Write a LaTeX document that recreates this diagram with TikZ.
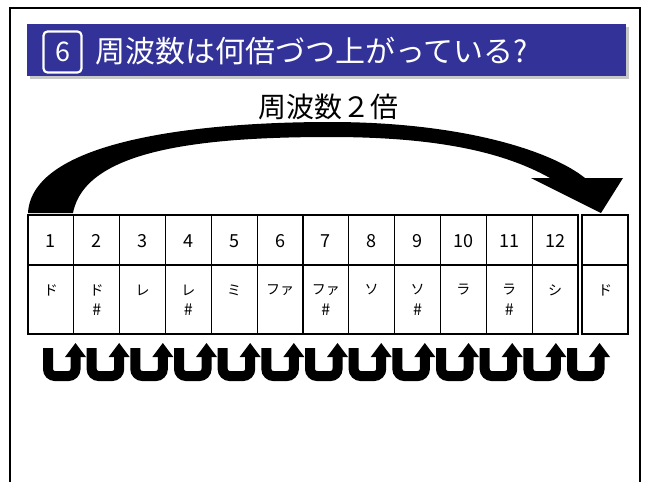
\documentclass[tikz,border=0pt]{standalone}
\usepackage{fontspec}
\setmainfont{Noto Sans CJK JP}
\definecolor{titleblue}{RGB}{50,50,152}
\begin{document}
\begin{tikzpicture}[x=1pt,y=-1pt,
  cellbox/.style={draw, line width=1.2pt, minimum width=45.83pt, inner sep=0pt},
  numlab/.style={font=\fontsize{18}{18}\selectfont, inner sep=0pt},
  kanalab/.style={font=\fontsize{14}{14}\selectfont, inner sep=0pt},
  uarrow/.style={line width=10pt, rounded corners=7pt}]
\useasboundingbox (0,0) rectangle (646,482);
\fill[white] (0,0) rectangle (646,482);
% frame
\draw[line width=2.6pt] (10,482) -- (10,8) -- (640,8) -- (640,482);
% title bar
\fill[black!22] (30,27) rectangle (629,79);
\fill[titleblue] (27,24) rectangle (626,76);
\node[draw=white, line width=2.2pt, rounded corners=4pt, minimum width=38pt, minimum height=41pt, inner sep=0pt, text=white, font=\fontsize{27}{27}\selectfont] (numbox) at (62.5,52) {6};
\node[anchor=west, text=white, font=\fontsize{30}{30}\selectfont, inner sep=0pt] (title) at (95,51) {周波数は何倍づつ上がっている?};
% big arc arrow
\fill (28,213) .. controls (32,140) and (200,122) .. (330,122)
  .. controls (460,122) and (550,150) .. (585,178)
  -- (623,178) -- (601,213) -- (531,178) -- (550,178)
  .. controls (500,150) and (430,137) .. (330,137)
  .. controls (200,137) and (85,150) .. (73,213) -- cycle;
\node[font=\fontsize{28}{28}\selectfont, inner sep=0pt] (arclabel) at (328,107) {周波数２倍};
% table
\foreach \k in {1,...,12} {
  \node[cellbox, minimum height=50pt] (n\k) at ({28+45.83*(\k-0.5)},240) {};
  \node[cellbox, minimum height=69pt] (m\k) at ({28+45.83*(\k-0.5)},299.5) {};
  \node[numlab] (lab\k) at ({28+45.83*(\k-0.5)},241) {\k};
}
\node[cellbox, minimum width=46pt, minimum height=50pt] (n13) at (605,240) {};
\node[cellbox, minimum width=46pt, minimum height=69pt] (m13) at (605,299.5) {};
\foreach \k/\kana in {1/ド,2/ド,3/レ,4/レ,5/ミ,6/ファ,7/ファ,8/ソ,9/ソ,10/ラ,11/ラ,12/シ} {
  \node[kanalab] (kana\k) at ({28+45.83*(\k-0.5)},290) {\kana};
}
\node[kanalab] (kana13) at (605,290) {ド};
\foreach \k in {2,4,7,9,11} {
  \node[kanalab, font=\fontsize{16}{16}\selectfont] (sharp\k) at ({28+45.83*(\k-0.5)},310) {\#};
}
% U-turn arrows
\foreach \i in {0,...,12} {
  \pgfmathsetmacro\xo{43+43.67*\i}
  \draw[uarrow] (\xo+5,348) -- (\xo+5,376) -- (\xo+32.5,376) -- (\xo+32.5,355);
  \fill (\xo+22,357) -- (\xo+32.5,343) -- (\xo+43,357) -- cycle;
}
\end{tikzpicture}
\end{document}
